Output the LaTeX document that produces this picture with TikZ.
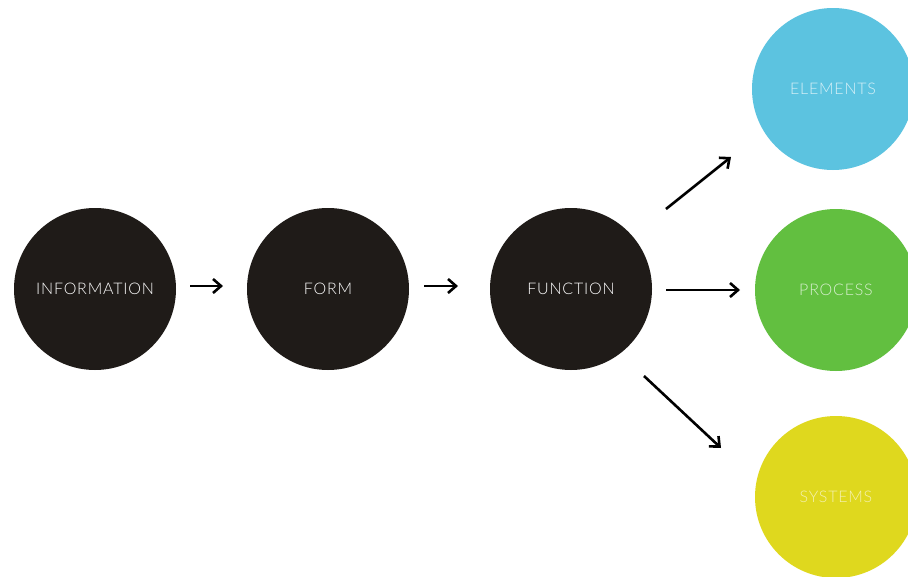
\documentclass[tikz,border=0pt]{standalone}
\usepackage{fontspec}
\setmainfont{Lato}
\newfontfamily\labelfont[LetterSpace=5]{Lato Light}
\usetikzlibrary{arrows.meta}
\definecolor{ink}{HTML}{1F1B18}
\definecolor{skyblue}{HTML}{5CC3E0}
\definecolor{leafgreen}{HTML}{62BF40}
\definecolor{lemon}{HTML}{DFD81E}
\begin{document}
\begin{tikzpicture}[x=1pt,y=-1pt,
  stage/.style={circle,minimum size=162pt,inner sep=0pt,font=\labelfont\fontsize{16}{18}\selectfont,text=white},
  flow/.style={line width=2.6pt,-{Straight Barb[length=8pt,width=14pt,line width=2.6pt]}},
]
\useasboundingbox[fill=white] (0,0) rectangle (908,576);
\begin{scope}
\clip (0,0) rectangle (908,576);
\node[stage,fill=ink] (info) at (95,289) {INFORMATION};
\node[stage,fill=ink] (form) at (328,289) {FORM};
\node[stage,fill=ink] (func) at (571,289) {FUNCTION};
\node[stage,fill=skyblue,text=skyblue!25!white] (elem) at (833,89) {ELEMENTS};
\node[stage,fill=leafgreen,text=leafgreen!25!white] (proc) at (836,290) {PROCESS};
\node[stage,fill=lemon,text=lemon!35!white] (sys) at (836,497) {SYSTEMS};
\end{scope}
\coordinate (a1s) at (190,286); \coordinate (a1e) at (223,286);
\coordinate (a2s) at (424,286); \coordinate (a2e) at (458,286);
\coordinate (a3s) at (666,290); \coordinate (a3e) at (740,290);
\coordinate (a4s) at (666,209); \coordinate (a4e) at (731,157);
\coordinate (a5s) at (644,376); \coordinate (a5e) at (721,448);
\draw[flow] (a1s) -- (a1e);
\draw[flow] (a2s) -- (a2e);
\draw[flow] (a3s) -- (a3e);
\draw[flow] (a4s) -- (a4e);
\draw[flow] (a5s) -- (a5e);
\end{tikzpicture}
\end{document}
